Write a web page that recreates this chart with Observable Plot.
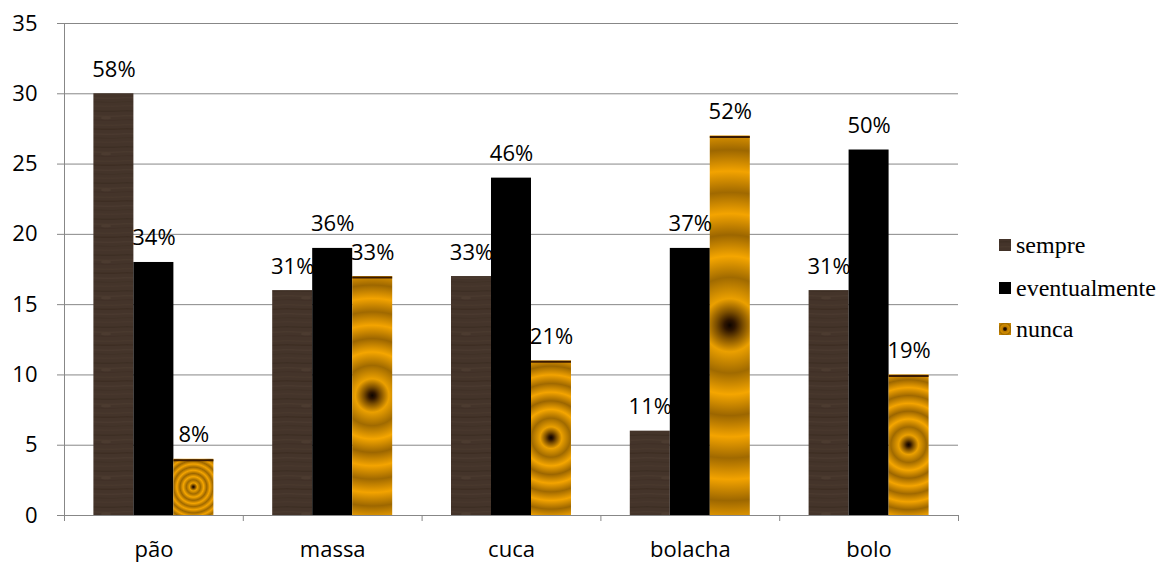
<!DOCTYPE html>
<html>
<head>
<meta charset="utf-8">
<script src="https://cdn.jsdelivr.net/npm/d3@7"></script>
<script src="https://cdn.jsdelivr.net/npm/@observablehq/plot@0.6"></script>
<style>
  body { margin: 0; background: #fff; }
  #chart { position: relative; width: 1165px; height: 563px; }
  .legend-item {
    position: absolute; left: 999px; height: 24px; line-height: 24px;
    display: flex; align-items: center;
    font-family: "Liberation Serif", "Times New Roman", serif; font-size: 24px; color: #000;
  }
  .legend-item svg { margin-right: 5px; display: block; }
</style>
</head>
<body>
<div id="chart"></div>
<script>
// Frequency of consumption per product
const categories = ["pão", "massa", "cuca", "bolacha", "bolo"];
const series = ["sempre", "eventualmente", "nunca"];
const sempre = [30, 16, 17, 6, 16];
const eventualmente = [18, 19, 24, 19, 26];
const nunca = [4, 17, 11, 27, 10];
const sempreLabels = ["58%", "31%", "33%", "11%", "31%"];
const eventualmenteLabels = ["34%", "36%", "46%", "37%", "50%"];
const nuncaLabels = ["8%", "33%", "21%", "52%", "19%"];
const yTicks = [0, 5, 10, 15, 20, 25, 30, 35];

const values = [sempre, eventualmente, nunca];
const labels = [sempreLabels, eventualmenteLabels, nuncaLabels];
const fillOf = d =>
  d.series === "sempre" ? "url(#wood)" :
  d.series === "eventualmente" ? "#000000" :
  `url(#rings-${d.i})`;

const rows = series.flatMap((s, si) =>
  categories.map((c, i) => ({category: c, i, series: s, si, value: values[si][i], label: labels[si][i]}))
);

// Clustered bars: each category spans one unit on x; the group of three bars sits in its middle
const groupStart = 0.1644, barStep = 0.2237;
const x1 = d => d.i + groupStart + d.si * barStep;
const x2 = d => x1(d) + barStep;
const xc = d => x1(d) + barStep / 2;

const grey = "#878787";
const font = "'Open Sans', sans-serif";

const svg = Plot.plot({
  width: 1165,
  height: 563,
  marginLeft: 64,
  marginRight: 207,
  marginTop: 23,
  marginBottom: 48,
  style: {fontFamily: font, fontSize: "22px", color: "#000", background: "#fff"},
  x: {type: "linear", domain: [0, categories.length], axis: null},
  y: {domain: [0, 35], axis: null},
  marks: [
    Plot.gridY({ticks: yTicks, stroke: grey, strokeOpacity: 1, insetLeft: -7}),
    Plot.axisY({ticks: yTicks, tickSize: 0, tickPadding: 27, label: null, fontSize: 22}),
    Plot.ruleX([0], {stroke: grey}),
    Plot.rectY(rows, {x1, x2, y: "value", fill: fillOf}),
    Plot.ruleY(rows.filter(d => d.series === "nunca"), {x1, x2, y: "value", stroke: "#3a1a02", strokeWidth: 2, dy: 1}),
    Plot.ruleY([0], {stroke: grey}),
    Plot.axisX({ticks: d3.range(categories.length + 1), tickFormat: () => "", tickSize: 6, stroke: grey, label: null}),
    Plot.axisX({ticks: categories.map((_, i) => i + 0.5), tickFormat: v => categories[Math.floor(v)], tickSize: 0, tickPadding: 26, label: null, fontSize: 22}),
    Plot.text(rows, {x: xc, y: "value", text: "label", lineAnchor: "bottom", dy: -17, fontSize: 22, fill: "#000"})
  ]
});

const xs = svg.scale("x"), ys = svg.scale("y");
const defs = d3.select(svg).insert("defs", ":first-child");

// Dark wood grain for "sempre"
const wood = defs.append("pattern")
  .attr("id", "wood").attr("patternUnits", "userSpaceOnUse")
  .attr("width", 40).attr("height", 36);
wood.append("rect").attr("width", 40).attr("height", 36).attr("fill", "#44342a");
[[3, "#3b2c21", 1.4], [8, "#4e3d31", 1], [12, "#3d2e23", 1.2], [17, "#4b3a2e", 1], [21, "#3a2b20", 1.4],
 [26, "#4f3e32", 1], [30, "#3e2f24", 1.2], [34, "#4a392d", 1]].forEach(([y, c, w]) => {
  wood.append("path")
    .attr("d", `M0,${y} C10,${y - 1} 20,${y + 1} 40,${y}`)
    .attr("stroke", c).attr("stroke-width", w).attr("fill", "none").attr("opacity", 0.7);
});
wood.append("ellipse").attr("cx", 26).attr("cy", 10).attr("rx", 5).attr("ry", 1.3).attr("fill", "#534135").attr("opacity", 0.5);

// Concentric amber rings for "nunca", kept circular on each bar
const ringStops = [[0, "#0d0400"], [0.02, "#2e1500"], [0.05, "#7a4d00"], [0.1, "#eba000"], [0.18, "#a06a00"],
  [0.26, "#f5a600"], [0.34, "#9c6600"], [0.42, "#f4a400"], [0.5, "#a06900"], [0.58, "#f3a300"],
  [0.66, "#9d6700"], [0.74, "#f2a200"], [0.82, "#a06a00"], [0.9, "#f0a000"], [1, "#a36c00"]];
const barWidthPx = xs.apply(barStep) - xs.apply(0);
nunca.forEach((v, i) => {
  const h = ys.apply(0) - ys.apply(v);
  const k = h / barWidthPx;
  const g = defs.append("radialGradient")
    .attr("id", `rings-${i}`)
    .attr("cx", 0.5).attr("cy", 0.5).attr("r", 0.7)
    .attr("gradientTransform", `translate(0.5,0.5) scale(${k},1) translate(-0.5,-0.5)`);
  ringStops.forEach(([o, c]) => g.append("stop").attr("offset", o).attr("stop-color", c));
});

// Small swatch version of the rings
const sw = defs.append("radialGradient").attr("id", "rings-swatch").attr("r", 0.6);
[[0, "#000000"], [0.2, "#3a1c00"], [0.35, "#b87800"], [0.6, "#d08c00"], [0.8, "#a06a00"], [1, "#c88600"]]
  .forEach(([o, c]) => sw.append("stop").attr("offset", o).attr("stop-color", c));

const chart = document.getElementById("chart");
chart.appendChild(svg);

// Legend on the right
const swatchFills = {sempre: "url(#wood)", eventualmente: "#000000", nunca: "url(#rings-swatch)"};
const legendTops = [233, 276, 317];
series.forEach((s, k) => {
  const item = document.createElement("div");
  item.className = "legend-item";
  item.style.top = legendTops[k] + "px";
  const box = d3.create("svg").attr("width", 12).attr("height", 12);
  box.append("rect").attr("width", 12).attr("height", 12).attr("fill", swatchFills[s]);
  item.appendChild(box.node());
  const label = document.createElement("span");
  label.textContent = s;
  item.appendChild(label);
  chart.appendChild(item);
});
</script>
</body>
</html>
